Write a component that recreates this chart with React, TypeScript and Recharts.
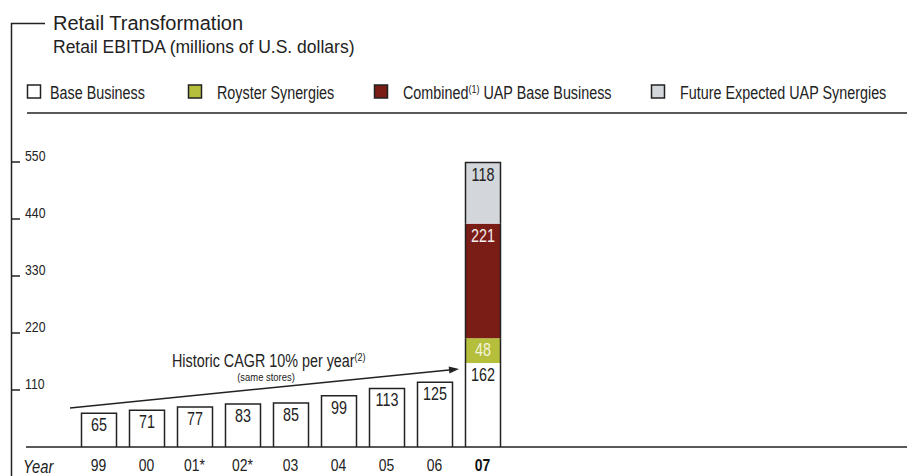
import React from 'react';
import { BarChart, Bar, XAxis, YAxis, LabelList } from 'recharts';

const years = ['99', '00', '01*', '02*', '03', '04', '05', '06', '07'];
const baseBusiness = [65, 71, 77, 83, 85, 99, 113, 125, 162];
const roysterSynergies = [null, null, null, null, null, null, null, null, 48];
const combinedUAPBase = [null, null, null, null, null, null, null, null, 221];
const futureUAPSynergies = [null, null, null, null, null, null, null, null, 118];
const yTicks = [110, 220, 330, 440, 550];

const seriesKeys = ['base', 'royster', 'combined', 'future'];
const seriesColors = ['#ffffff', '#b5bf3b', '#7a1d17', '#d3d6da'];
const labelColors = ['#222222', '#f2f4dc', '#f4eeee', '#222222'];

const data = years.map((year, i) => ({
  year,
  base: baseBusiness[i],
  royster: roysterSynergies[i],
  combined: combinedUAPBase[i],
  future: futureUAPSynergies[i],
}));

const SANS = "'Liberation Sans', Arial, sans-serif";
const INK = '#222222';
const SQ = 0.82;

const NText = (p: any) => {
  const { x, y, children, ...rest } = p;
  return (
    <text transform={`translate(${x},${y}) scale(${SQ},1)`} x={0} y={0} fontFamily={SANS} {...rest}>
      {children}
    </text>
  );
};

const makeShape = (idx: number) => (props: any) => {
  const { x, y, width, height, payload } = props;
  const key = seriesKeys[idx];
  if (!payload || payload[key] == null || !height) return <g />;
  const isTop = seriesKeys.slice(idx + 1).every((k) => payload[k] == null || payload[k] === 0);
  const top = Math.min(y, y + height);
  const h = Math.abs(height);
  const d = isTop
    ? `M${x},${top + h} L${x},${top} L${x + width},${top} L${x + width},${top + h}`
    : `M${x},${top + h} L${x},${top} M${x + width},${top} L${x + width},${top + h}`;
  return (
    <g>
      <rect x={x} y={top} width={width} height={h} fill={seriesColors[idx]} />
      <path d={d} fill="none" stroke={INK} strokeWidth={1.5} strokeLinejoin="miter" />
    </g>
  );
};

const makeLabel = (idx: number) => (props: any) => {
  const { x, y, width, value } = props;
  if (value == null) return null;
  return (
    <NText
      x={x + width / 2}
      y={y + 12}
      textAnchor="middle"
      dominantBaseline="central"
      fontSize={17.5}
      fill={labelColors[idx]}
    >
      {value}
    </NText>
  );
};

const XTick = (props: any) => {
  const { x, y, payload } = props;
  const last = payload.value === years[years.length - 1];
  return (
    <NText
      x={x}
      y={y + 18}
      textAnchor="middle"
      dominantBaseline="central"
      fontSize={17}
      fontWeight={last ? 'bold' : 'normal'}
      fill={last ? '#111' : INK}
    >
      {payload.value}
    </NText>
  );
};

const YTick = (props: any) => {
  const { x, y, payload } = props;
  return (
    <g>
      <line x1={x - 15} x2={x - 6} y1={y} y2={y} stroke={INK} strokeWidth={1.5} />
      <NText x={x - 1} y={y - 5.5} textAnchor="start" dominantBaseline="central" fontSize={15} fill={INK}>
        {payload.value}
      </NText>
    </g>
  );
};

const legendItems = [
  { label: 'Base Business', sup: '', rest: '', color: seriesColors[0], x: 27, tx: 50 },
  { label: 'Royster Synergies', sup: '', rest: '', color: seriesColors[1], x: 188, tx: 217 },
  { label: 'Combined', sup: '(1)', rest: ' UAP Base Business', color: seriesColors[2], x: 374, tx: 403 },
  { label: 'Future Expected UAP Synergies', sup: '', rest: '', color: seriesColors[3], x: 651, tx: 680 },
];

const Overlay = () => {
  const ax1 = 70, ay1 = 408, ax2 = 459, ay2 = 369;
  const ang = Math.atan2(ay2 - ay1, ax2 - ax1);
  const L = 10, W = 3.5;
  const bx = ax2 - L * Math.cos(ang), by = ay2 - L * Math.sin(ang);
  const p1 = `${bx + W * Math.sin(ang)},${by - W * Math.cos(ang)}`;
  const p2 = `${bx - W * Math.sin(ang)},${by + W * Math.cos(ang)}`;
  return (
    <svg width={907} height={476} style={{ position: 'absolute', left: 0, top: 0, pointerEvents: 'none' }}>
      <path d="M45,23.5 L11.5,23.5 L11.5,476" fill="none" stroke={INK} strokeWidth={1.5} />
      <line x1={27} x2={907} y1={113} y2={113} stroke={INK} strokeWidth={1.5} />
      <text x={53} y={30} fontFamily={SANS} fontSize={20} fill={INK}>Retail Transformation</text>
      <text x={53} y={53} fontFamily={SANS} fontSize={17.5} fill={INK}>Retail EBITDA (millions of U.S. dollars)</text>
      {legendItems.map((it) => (
        <g key={it.label}>
          <rect x={it.x + 0.5} y={85} width={13} height={13} fill={it.color} stroke={INK} strokeWidth={1.5} />
          <NText x={it.tx} y={99} fontSize={17.5} fill={INK}>
            {it.label}
            {it.sup ? <tspan fontSize={11} dy={-6}>{it.sup}</tspan> : null}
            {it.rest ? <tspan dy={6}>{it.rest}</tspan> : null}
          </NText>
        </g>
      ))}
      <NText x={23} y={466} dominantBaseline="central" fontStyle="italic" fontSize={18} fill={INK}>Year</NText>
      <line x1={ax1} y1={ay1} x2={bx} y2={by} stroke={INK} strokeWidth={1.5} />
      <polygon points={`${ax2},${ay2} ${p1} ${p2}`} fill={INK} />
      <NText x={172} y={367} fontSize={17.5} fill={INK}>
        Historic CAGR 10% per year
        <tspan fontSize={11} dy={-6}>(2)</tspan>
      </NText>
      <NText x={266} y={376.5} textAnchor="middle" dominantBaseline="central" fontSize={11.5} fill={INK}>(same stores)</NText>
    </svg>
  );
};

export default function App() {
  return (
    <div style={{ position: 'absolute', left: 0, top: 0, width: 907, height: 476, background: '#fff' }}>
      <BarChart
        width={907}
        height={476}
        data={data}
        margin={{ top: 162, right: 0, bottom: 0, left: 0 }}
        barSize={35}
      >
        <XAxis
          dataKey="year"
          height={29}
          interval={0}
          tickLine={false}
          tickSize={0}
          tickMargin={0}
          axisLine={{ stroke: INK, strokeWidth: 1.5 }}
          padding={{ left: 48.5, right: 400.5 }}
          tick={<XTick />}
        />
        <YAxis
          domain={[0, 550]}
          ticks={yTicks}
          width={26}
          axisLine={false}
          tickLine={false}
          tickSize={0}
          tickMargin={0}
          tick={<YTick />}
        />
        {seriesKeys.map((k, i) => (
          <Bar key={k} dataKey={k} stackId="a" fill={seriesColors[i]} shape={makeShape(i)} isAnimationActive={false}>
            <LabelList dataKey={k} content={makeLabel(i)} />
          </Bar>
        ))}
      </BarChart>
      <Overlay />
    </div>
  );
}
